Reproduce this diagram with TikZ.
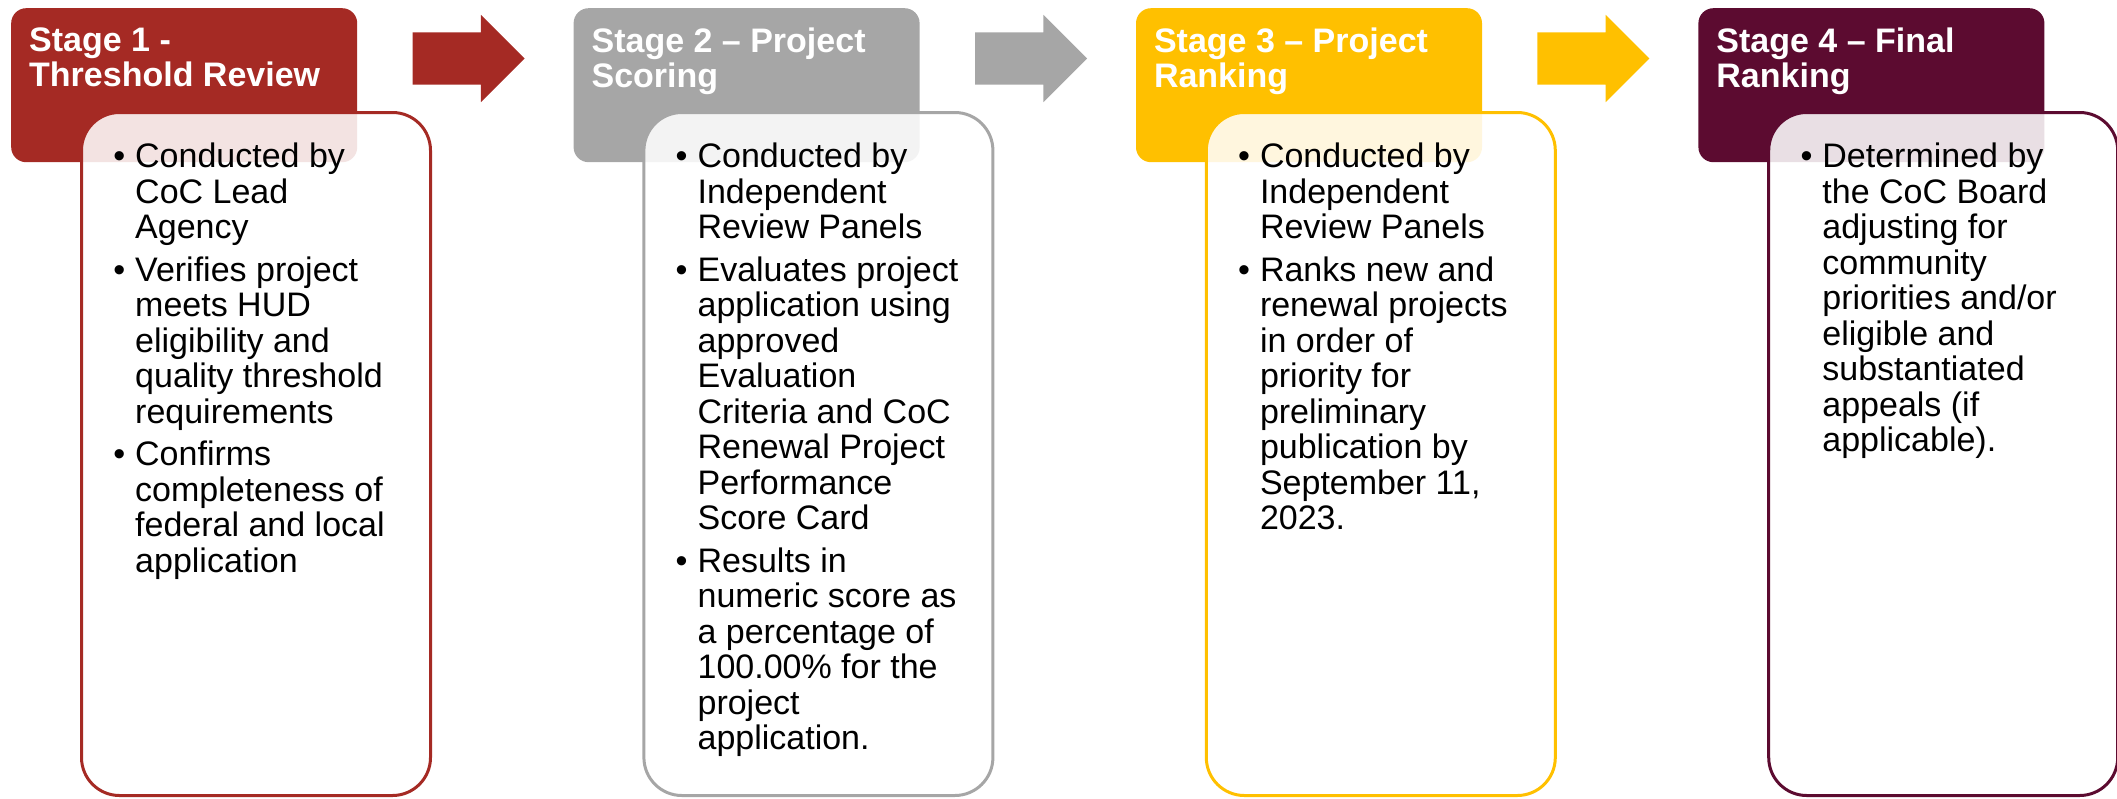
\documentclass[tikz,border=0pt]{standalone}
\usepackage{fontspec}
\setmainfont{Liberation Sans}
\usetikzlibrary{positioning,shapes.arrows}

\definecolor{stagered}{HTML}{A52A24}
\definecolor{stagegray}{HTML}{A6A6A6}
\definecolor{stagegold}{HTML}{FFC000}
\definecolor{stagewine}{HTML}{5C0B30}

\newcommand{\bul}{\llap{\textbullet\hspace{10pt}}}

\begin{document}
\begin{tikzpicture}[
  x=1pt, y=1pt,
  node distance=216pt,
  stagehead/.style={rectangle,rounded corners=15pt,minimum width=346pt,minimum height=154pt,inner sep=0pt},
  stagebox/.style={rectangle,rounded corners=38pt,line width=3pt,fill=white,fill opacity=0.87,minimum width=349pt,minimum height=683pt,anchor=north west},
  stagetitle/.style={text=white,font=\bfseries\fontsize{34}{35.5}\selectfont,align=left,inner sep=0pt,anchor=north west},
  stagetext/.style={text=black,font=\fontsize{34}{35.5}\selectfont,align=left,inner sep=0pt,anchor=north west},
  stagearrow/.style={single arrow,single arrow head extend=17.5pt,minimum height=112pt,minimum width=87pt,inner xsep=0pt,inner ysep=26pt,anchor=tail},
]
\useasboundingbox (0,0) rectangle (2117,-798);

% headers
\node[stagehead,fill=stagered,anchor=north west] (h1) at (11,-8) {};
\node[stagehead,fill=stagegray,right=of h1] (h2) {};
\node[stagehead,fill=stagegold,right=of h2] (h3) {};
\node[stagehead,fill=stagewine,right=of h3] (h4) {};

\node[stagetitle] (t1) at ([shift={(18,-19.5)}]h1.north west) {Stage 1 -\\Threshold Review};
\node[stagetitle] (t2) at ([shift={(18,-19.5)}]h2.north west) {Stage 2 -- Project\\Scoring};
\node[stagetitle] (t3) at ([shift={(18,-19.5)}]h3.north west) {Stage 3 -- Project\\Ranking};
\node[stagetitle] (t4) at ([shift={(18,-19.5)}]h4.north west) {Stage 4 -- Final\\Ranking};

% arrows
\node[stagearrow,fill=stagered] (a1) at ([shift={(55,-50.5)}]h1.north east) {};
\node[stagearrow,fill=stagegray] (a2) at ([shift={(55,-50.5)}]h2.north east) {};
\node[stagearrow,fill=stagegold] (a3) at ([shift={(55,-50.5)}]h3.north east) {};

% boxes
\node[stagebox,draw=stagered] (b1) at ([shift={(69,-103)}]h1.north west) {};
\node[stagebox,draw=stagegray] (b2) at ([shift={(69,-103)}]h2.north west) {};
\node[stagebox,draw=stagegold] (b3) at ([shift={(69,-103)}]h3.north west) {};
\node[stagebox,draw=stagewine] (b4) at ([shift={(69,-103)}]h4.north west) {};

\node[stagetext] (l1) at ([shift={(55,-32)}]b1.north west) {\bul Conducted by\\CoC Lead\\Agency\\[7pt]
  \bul Verifies project\\meets HUD\\eligibility and\\quality threshold\\requirements\\[7pt]
  \bul Confirms\\completeness of\\federal and local\\application};
\node[stagetext] (l2) at ([shift={(55,-32)}]b2.north west) {\bul Conducted by\\Independent\\Review Panels\\[7pt]
  \bul Evaluates project\\application using\\approved\\Evaluation\\Criteria and CoC\\Renewal Project\\Performance\\Score Card\\[7pt]
  \bul Results in\\numeric score as\\a percentage of\\100.00\% for the\\project\\application.};
\node[stagetext] (l3) at ([shift={(55,-32)}]b3.north west) {\bul Conducted by\\Independent\\Review Panels\\[7pt]
  \bul Ranks new and\\renewal projects\\in order of\\priority for\\preliminary\\publication by\\September 11,\\2023.};
\node[stagetext] (l4) at ([shift={(55,-32)}]b4.north west) {\bul Determined by\\the CoC Board\\adjusting for\\community\\priorities and/or\\eligible and\\substantiated\\appeals (if\\applicable).};
\end{tikzpicture}
\end{document}
